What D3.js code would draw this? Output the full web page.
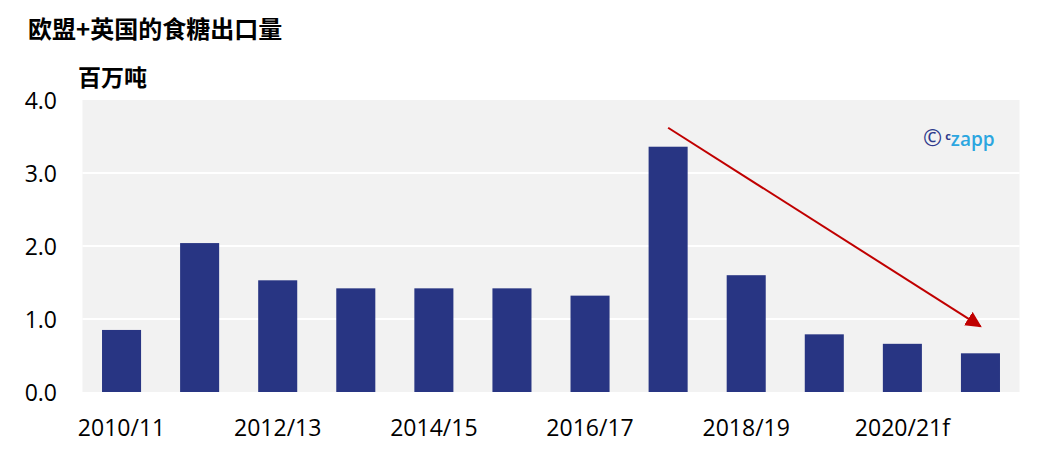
<!DOCTYPE html>
<html>
<head>
<meta charset="utf-8">
<script src="https://cdn.jsdelivr.net/npm/d3@7"></script>
<style>
  html, body { margin: 0; padding: 0; background: #ffffff; }
  svg { display: block; }
</style>
</head>
<body>
<svg id="chart" width="1037" height="454"></svg>
<script>
const categories = ["2010/11","2011/12","2012/13","2013/14","2014/15","2015/16","2016/17","2017/18","2018/19","2019/20","2020/21f","2021/22f"];
const exportsMt = [0.85, 2.04, 1.53, 1.42, 1.42, 1.42, 1.32, 3.36, 1.60, 0.79, 0.66, 0.53];
const yTicks = [0, 1, 2, 3, 4];
const xTickLabels = ["2010/11","2012/13","2014/15","2016/17","2018/19","2020/21f"];
const trendArrow = [{cat: "2017/18", value: 3.62}, {cat: "2021/22f", value: 0.90}];
const titleText = "欧盟+英国的食糖出口量";
const unitText = "百万吨";

const svg = d3.select("#chart");
const plot = {left: 82.5, right: 1019.5, top: 100, bottom: 392};

const x = d3.scaleBand().domain(categories).range([plot.left, plot.right])
  .paddingInner(0.5).paddingOuter(0.25);
const y = d3.scaleLinear().domain([0, 4]).range([plot.bottom, plot.top]);

// background
svg.append("rect")
  .attr("x", plot.left).attr("y", plot.top)
  .attr("width", plot.right - plot.left).attr("height", plot.bottom - plot.top)
  .attr("fill", "#f2f2f2");

// gridlines
svg.append("g").selectAll("line").data(yTicks.filter(d => d > 0 && d < 4)).join("line")
  .attr("x1", plot.left).attr("x2", plot.right)
  .attr("y1", d => y(d)).attr("y2", d => y(d))
  .attr("stroke", "#ffffff").attr("stroke-width", 2);

// bars
svg.append("g").selectAll("rect").data(categories).join("rect")
  .attr("x", d => x(d))
  .attr("y", (d, i) => y(exportsMt[i]))
  .attr("width", x.bandwidth())
  .attr("height", (d, i) => y(0) - y(exportsMt[i]))
  .attr("fill", "#283583");

// y axis
const yAxis = d3.axisLeft(y).tickValues(yTicks).tickFormat(d3.format(".1f")).tickSize(0).tickPadding(0);
const yg = svg.append("g").attr("transform", "translate(57,0)").call(yAxis);
yg.select(".domain").remove();
yg.selectAll("text")
  .attr("font-family", "'Open Sans', sans-serif")
  .attr("font-size", 23)
  .attr("fill", "#000")
  .attr("dy", "0.36em");

// x axis
const xAxis = d3.axisBottom(x).tickValues(xTickLabels).tickSize(0).tickPadding(0);
const xg = svg.append("g").attr("transform", "translate(0,420)").call(xAxis);
xg.select(".domain").remove();
xg.selectAll("text")
  .attr("font-family", "'Open Sans', sans-serif")
  .attr("font-size", 23)
  .attr("fill", "#000")
  .attr("dy", "0.7em");

// title
svg.append("text")
  .attr("x", 28).attr("y", 38)
  .attr("font-family", "'Noto Sans CJK SC', sans-serif")
  .attr("font-weight", "bold")
  .attr("font-size", 24)
  .attr("fill", "#000")
  .text(titleText);

svg.append("text")
  .attr("x", 78).attr("y", 86)
  .attr("font-family", "'Noto Sans CJK SC', sans-serif")
  .attr("font-weight", "bold")
  .attr("font-size", 23)
  .attr("fill", "#000")
  .text(unitText);

// arrow
const defs = svg.append("defs");
defs.append("marker")
  .attr("id", "arrowHead")
  .attr("viewBox", "0 0 10 10")
  .attr("refX", 9).attr("refY", 5)
  .attr("markerWidth", 8).attr("markerHeight", 8)
  .attr("markerUnits", "strokeWidth")
  .attr("orient", "auto")
  .append("path").attr("d", "M0,0 L10,5 L0,10 Z").attr("fill", "#c00000");

const cx = c => x(c) + x.bandwidth() / 2;
svg.append("line")
  .attr("x1", cx(trendArrow[0].cat)).attr("y1", y(trendArrow[0].value))
  .attr("x2", cx(trendArrow[1].cat)).attr("y2", y(trendArrow[1].value))
  .attr("stroke", "#c00000").attr("stroke-width", 2)
  .attr("marker-end", "url(#arrowHead)");

// watermark
const wm = svg.append("text")
  .attr("x", 923).attr("y", 146)
  .attr("font-family", "'Open Sans', sans-serif");
wm.append("tspan").attr("font-size", 23).attr("fill", "#2e3a8c").text("©");
wm.append("tspan").attr("font-size", 11).attr("dx", 3).attr("dy", -6).attr("fill", "#2e3a8c").attr("font-weight", "bold").text("c");
wm.append("tspan").attr("font-size", 19).attr("dx", 0).attr("dy", 6).attr("fill", "#2ca6e0").attr("font-weight", 600).text("zapp");
</script>
</body>
</html>
